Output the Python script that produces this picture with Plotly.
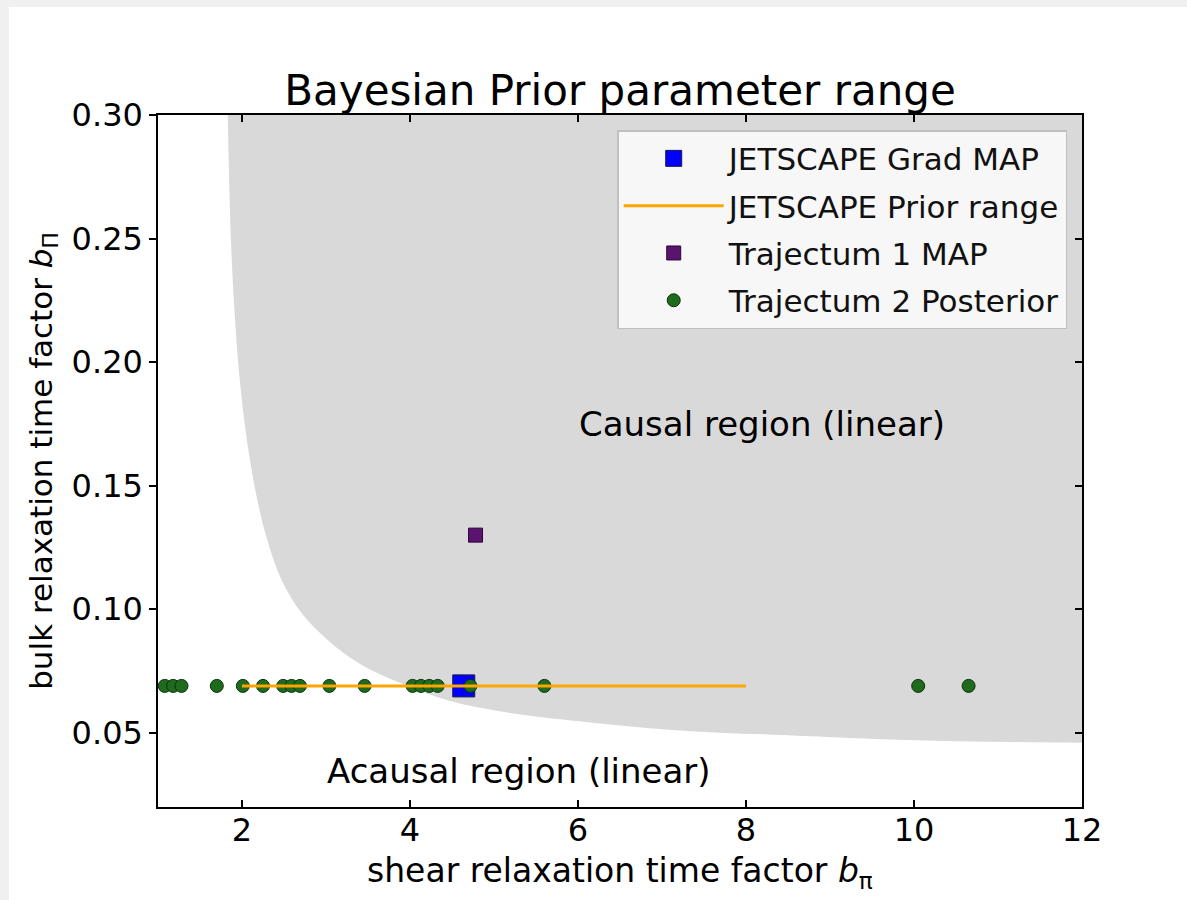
import plotly.graph_objects as go

# Causality boundary in the (b_pi, b_Pi) plane
boundary_bpi = [1.83, 1.85, 1.87, 1.91, 1.97, 2.06, 2.19, 2.31, 2.47, 2.72, 3.04,
                3.40, 3.90, 4.47, 5.20, 6.20, 7.20, 8.50, 10.0, 12.0]
boundary_bPi = [0.300, 0.270, 0.248, 0.221, 0.194, 0.168, 0.143, 0.127, 0.112, 0.098, 0.087,
                0.078, 0.070, 0.063, 0.058, 0.054, 0.051, 0.049, 0.047, 0.046]

# JETSCAPE
jetscape_map_bpi = [4.64]
jetscape_map_bPi = [0.069]
jetscape_prior_bpi = [2.0, 8.0]
jetscape_prior_bPi = [0.069, 0.069]

# Trajectum
traj1_map_bpi = [4.78]
traj1_map_bPi = [0.13]
traj2_post_bpi = [1.08, 1.18, 1.28, 1.70, 2.01, 2.25, 2.49, 2.59, 2.69, 3.04,
                  3.46, 4.03, 4.13, 4.23, 4.33, 4.72, 5.60, 10.05, 10.65]
traj2_post_bPi = [0.069] * len(traj2_post_bpi)

x_range = [1, 12]
y_range = [0.02, 0.30]
x_ticks = [2, 4, 6, 8, 10, 12]
y_ticks = [0.05, 0.10, 0.15, 0.20, 0.25, 0.30]

FONT = "DejaVu Sans"

fig = go.Figure()

# shaded causal region: filled between the top edge and the boundary curve
fig.add_trace(go.Scatter(
    x=[boundary_bpi[0], x_range[1]], y=[y_range[1], y_range[1]],
    mode="lines", line=dict(width=0, color="#d9d9d9"),
    showlegend=False, hoverinfo="skip",
))
fig.add_trace(go.Scatter(
    x=boundary_bpi, y=boundary_bPi,
    fill="tonexty", fillcolor="#d9d9d9", mode="lines",
    line=dict(width=0, color="#d9d9d9", shape="spline", smoothing=1.0),
    showlegend=False, hoverinfo="skip",
))

fig.add_trace(go.Scatter(
    x=jetscape_map_bpi, y=jetscape_map_bPi, mode="markers",
    name="JETSCAPE Grad MAP", legendrank=1, legendgroup="g1",
    marker=dict(symbol="square", size=22, color="#0000ff",
                line=dict(color="#1a1a4a", width=1)),
))
fig.add_trace(go.Scatter(
    x=traj2_post_bpi, y=traj2_post_bPi, mode="markers",
    name="Trajectum 2 Posterior", legendrank=4, legendgroup="g4",
    marker=dict(symbol="circle", size=13, color="#1e6b1e",
                line=dict(color="#0d2e0d", width=1)),
))
fig.add_trace(go.Scatter(
    x=jetscape_prior_bpi, y=jetscape_prior_bPi, mode="lines",
    name="JETSCAPE Prior range", legendrank=2, legendgroup="g2",
    line=dict(color="#ffa500", width=3),
))
fig.add_trace(go.Scatter(
    x=traj1_map_bpi, y=traj1_map_bPi, mode="markers",
    name="Trajectum 1 MAP", legendrank=3, legendgroup="g3",
    marker=dict(symbol="square", size=14, color="#5a1470",
                line=dict(color="#2a0a35", width=1)),
))

# carrier trace for the right-hand tick axis
fig.add_trace(go.Scatter(
    x=[x_range[0]], y=[y_range[1]], yaxis="y2", mode="markers",
    marker=dict(opacity=0), showlegend=False, hoverinfo="skip",
))

fig.add_annotation(x=8.19, y=0.175, text="Causal region (linear)",
                   showarrow=False, font=dict(family=FONT, size=34, color="black"))
fig.add_annotation(x=5.30, y=0.0345, text="Acausal region (linear)",
                   showarrow=False, font=dict(family=FONT, size=34, color="black"))

# x-axis title
fig.add_annotation(x=0.5, y=-0.094, xref="paper", yref="paper",
                   yanchor="middle", xanchor="center", showarrow=False,
                   text="shear relaxation time factor <i>b</i><sub>π</sub>",
                   font=dict(family=FONT, size=33, color="black"))

# white card on a light grey page
fig.add_shape(type="rect", xref="paper", yref="paper",
              x0=-0.1613, x1=1.2, y0=-0.2, y1=1.156,
              fillcolor="white", line=dict(width=0), layer="below")

fig.update_layout(
    width=1187, height=900,
    margin=dict(l=158, r=105, t=115, b=93),
    paper_bgcolor="#f0f0f0", plot_bgcolor="white",
    font=dict(family=FONT, color="black"),
    title=dict(text="Bayesian Prior parameter range", x=0.5, xref="paper",
               y=1 - 90 / 900, yanchor="middle",
               font=dict(family=FONT, size=42, color="black")),
    xaxis=dict(range=x_range, tickvals=x_ticks, ticks="inside", ticklen=7, tickwidth=1.5,
               tickcolor="black", showline=True, linecolor="black", linewidth=1.5,
               mirror="ticks", showgrid=False, zeroline=False, ticklabelstandoff=-6,
               tickfont=dict(family=FONT, size=32)),
    yaxis=dict(range=y_range, tickvals=y_ticks, tickformat=".2f", ticks="outside",
               ticklen=7, tickwidth=1.5, tickcolor="black", showline=True,
               linecolor="black", linewidth=1.5, mirror=True, showgrid=False,
               zeroline=False, tickfont=dict(family=FONT, size=32),
               title=dict(text="bulk relaxation time factor <i>b</i><sub>Π</sub>",
                          font=dict(family=FONT, size=31), standoff=10)),
    yaxis2=dict(range=y_range, overlaying="y", side="right", tickvals=y_ticks,
                ticks="inside", ticklen=7, tickwidth=1.5, tickcolor="black",
                showticklabels=False, showgrid=False, zeroline=False, showline=False),
    legend=dict(x=0.984, y=0.978, xanchor="right", yanchor="top",
                bgcolor="rgba(249,249,249,0.9)", bordercolor="#c0c0c0", borderwidth=1.5,
                font=dict(family=FONT, size=31, color="#111111"),
                itemsizing="trace", itemwidth=100, tracegroupgap=4),
)

fig.write_html("out.html")
